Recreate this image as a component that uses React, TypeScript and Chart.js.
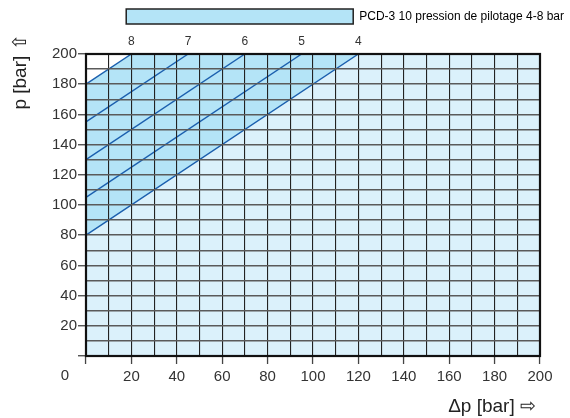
import { useEffect, useRef } from 'react';
import { Chart, registerables } from 'chart.js';

Chart.register(...registerables);

// pilot pressure (bar) and the p values where each line starts (Δp = 0) and ends (top of chart)
const pilotLabels = ['8', '7', '6', '5', '4'];
const lineStartP = [180, 155, 130, 105, 80];
const lineEndP = [200, 200, 200, 200, 200];
const xMax = 200;
const legendText = 'PCD-3 10 pression de pilotage 4-8 bar';

const FONT = "'Liberation Sans', Arial, sans-serif";
const BLUE_MID = '#b4e4f7';
const BLUE_LIGHT = '#dbf1fb';
const LINE_BLUE = '#1b5fae';

const framePlugin = {
  id: 'framePlugin',
  afterDraw(chart: any) {
    const { ctx, chartArea, scales } = chart;
    ctx.save();
    ctx.strokeStyle = '#111';
    ctx.lineWidth = 2.2;
    ctx.strokeRect(chartArea.left, chartArea.top, chartArea.right - chartArea.left, chartArea.bottom - chartArea.top);
    // origin label
    ctx.fillStyle = '#333';
    ctx.font = `15px ${FONT}`;
    ctx.textAlign = 'center';
    ctx.textBaseline = 'middle';
    ctx.fillText('0', scales.x.getPixelForValue(0) - 21, 376);
    // axis titles
    ctx.fillStyle = '#222';
    ctx.font = `19px ${FONT}`;
    ctx.textAlign = 'right';
    ctx.fillText('\u0394p [bar] \u21E8', 536, 407);
    ctx.translate(21, 72);
    ctx.rotate(-Math.PI / 2);
    ctx.textAlign = 'center';
    ctx.fillText('p [bar] \u21E7', 0, 0);
    ctx.restore();
  },
};

export default function App() {
  const canvasRef = useRef<HTMLCanvasElement>(null);

  useEffect(() => {
    if (!canvasRef.current) return;
    const last = pilotLabels.length - 1;
    const datasets = pilotLabels.map((lab, i) => {
      const pts = [
        { x: 0, y: lineStartP[i] },
        { x: lineEndP[i] - lineStartP[i], y: lineEndP[i] },
      ];
      // first and last lines run on along the top edge so their fills cover the full width
      if (i === 0 || i === last) pts.push({ x: xMax, y: lineEndP[i] });
      let fill: any = false;
      let bg = BLUE_MID;
      if (i === 0) fill = { target: last };
      if (i === last) {
        fill = 'start';
        bg = BLUE_LIGHT;
      }
      return {
        label: lab,
        data: pts,
        borderColor: LINE_BLUE,
        borderWidth: 1.4,
        pointRadius: 0,
        fill,
        backgroundColor: bg,
      };
    });

    const chart = new Chart(canvasRef.current, {
      type: 'scatter',
      data: { datasets },
      options: {
        animation: false,
        responsive: false,
        showLine: true,
        layout: { padding: { left: 0, right: 0, top: 3, bottom: 0 } },
        plugins: {
          tooltip: { enabled: false },
          filler: { drawTime: 'beforeDatasetsDraw' },
          legend: {
            position: 'top',
            align: 'end',
            onClick: () => {},
            labels: {
              boxWidth: 227,
              boxHeight: 15,
              padding: 6,
              color: '#333',
              font: { family: FONT, size: 12 },
              generateLabels: () => [
                {
                  text: legendText,
                  fillStyle: BLUE_MID,
                  strokeStyle: '#222',
                  lineWidth: 1.5,
                  hidden: false,
                  datasetIndex: 0,
                },
              ],
            },
          },
        },
        scales: {
          x: {
            type: 'linear',
            min: 0,
            max: xMax,
            border: { display: false },
            grid: {
              z: 1,
              color: '#222',
              lineWidth: 1.1,
              tickLength: 8,
              tickColor: (c: any) => (c.tick && c.tick.value % 20 === 0 ? '#444' : 'rgba(0,0,0,0)'),
              tickWidth: 1.3,
            },
            ticks: {
              stepSize: 10,
              color: '#333',
              padding: 4,
              maxRotation: 0,
              autoSkip: false,
              font: { family: FONT, size: 15 },
              callback: (v: any) => (v !== 0 && v % 20 === 0 ? String(v) : ''),
            },
            afterFit: (s: any) => {
              s.height = 62;
            },
          },
          x2: {
            type: 'linear',
            position: 'top',
            min: 0,
            max: xMax,
            grid: { display: false, drawTicks: false },
            border: { display: false },
            afterBuildTicks: (s: any) => {
              s.ticks = lineStartP.map((p, i) => ({ value: lineEndP[i] - p }));
            },
            ticks: {
              color: '#333',
              padding: 5,
              autoSkip: false,
              maxRotation: 0,
              font: { family: FONT, size: 12 },
              callback: (v: any) => {
                const i = lineStartP.findIndex((p, k) => lineEndP[k] - p === v);
                return i >= 0 ? pilotLabels[i] : '';
              },
            },
            afterFit: (s: any) => {
              s.height = 20;
            },
          },
          y: {
            type: 'linear',
            min: 0,
            max: 200,
            border: { display: false },
            grid: {
              z: 1,
              color: '#5a5a5a',
              lineWidth: 1.5,
              tickLength: 8,
              tickColor: (c: any) => (c.tick && c.tick.value % 20 === 0 ? '#444' : 'rgba(0,0,0,0)'),
              tickWidth: 1.3,
            },
            ticks: {
              stepSize: 10,
              color: '#333',
              padding: 1,
              autoSkip: false,
              font: { family: FONT, size: 15 },
              callback: (v: any) => (v !== 0 && v % 20 === 0 ? String(v) : ''),
            },
            afterFit: (s: any) => {
              s.width = 86;
            },
          },
          yRight: {
            type: 'linear',
            position: 'right',
            grid: { display: false, drawTicks: false },
            border: { display: false },
            ticks: { display: false },
            afterFit: (s: any) => {
              s.width = 30;
            },
          },
        },
      },
      plugins: [framePlugin],
    } as any);

    return () => chart.destroy();
  }, []);

  return (
    <div style={{ position: 'absolute', left: 0, top: 0, width: 570, height: 418, background: '#fff' }}>
      <canvas ref={canvasRef} width={570} height={418} />
    </div>
  );
}
